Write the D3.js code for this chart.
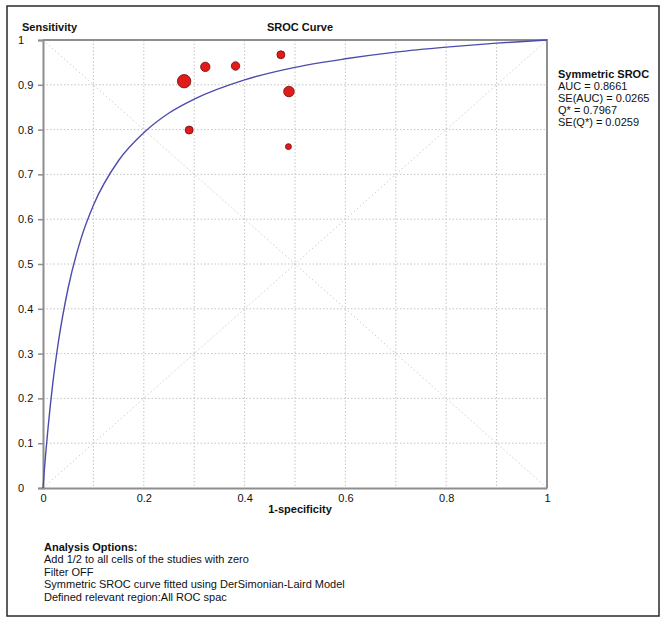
<!DOCTYPE html>
<html>
<head>
<meta charset="utf-8">
<script src="https://cdn.jsdelivr.net/npm/d3@7"></script>
<style>
    body { margin: 0; background: #fff; }
    svg text { font-family: "Liberation Sans", Arial, sans-serif; font-size: 11px; fill: #111; }
    .bold { font-weight: bold; }
</style>
</head>
<body>
<div id="chart"></div>
<script>
// study points (1-specificity, sensitivity) and relative study weight
let studyFpr  = [0.280, 0.322, 0.382, 0.472, 0.488, 0.290, 0.487];
let studySens = [0.908, 0.940, 0.942, 0.967, 0.885, 0.799, 0.762];
let studyWeight = [45, 22, 18, 16, 28, 16, 9];

// symmetric SROC curve
let curveFpr  = [0, 0.002, 0.005, 0.01, 0.02, 0.03, 0.05, 0.075, 0.1, 0.15, 0.2, 0.25, 0.3, 0.4, 0.5, 0.6, 0.7, 0.8, 0.9, 1];
let curveSens = [0, 0.030, 0.072, 0.134, 0.239, 0.322, 0.447, 0.555, 0.631, 0.731, 0.793, 0.837, 0.868, 0.911, 0.939, 0.958, 0.973, 0.984, 0.993, 1];

let xTicks = [0, 0.2, 0.4, 0.6, 0.8, 1];
let yTicks = [0, 0.1, 0.2, 0.3, 0.4, 0.5, 0.6, 0.7, 0.8, 0.9, 1];
let gridTicks = [0.1, 0.2, 0.3, 0.4, 0.5, 0.6, 0.7, 0.8, 0.9];

let legendTitle = "Symmetric SROC";
let legendLines = ["AUC = 0.8661", "SE(AUC) = 0.0265", "Q* = 0.7967", "SE(Q*) = 0.0259"];
let optionsTitle = "Analysis Options:";
let optionsLines = [
    "Add 1/2 to all cells of the studies with zero",
    "Filter OFF",
    "Symmetric SROC curve fitted using DerSimonian-Laird Model",
    "Defined relevant region:All ROC spac"
];

let svg = d3.select("#chart").append("svg")
    .attr("width", 667)
    .attr("height", 624);

// outer frame
svg.append("rect")
    .attr("x", 7).attr("y", 6)
    .attr("width", 652).attr("height", 610)
    .attr("fill", "none")
    .attr("stroke", "#2a2a2a")
    .attr("stroke-width", 1.5);

let margin = { left: 43, top: 40 };
let width = 504, height = 448;

let g = svg.append("g")
    .attr("transform", "translate(" + margin.left + "," + margin.top + ")");

let x = d3.scaleLinear().domain([0, 1]).range([0, width]);
let y = d3.scaleLinear().domain([0, 1]).range([height, 0]);
let r = d3.scaleSqrt().domain([0, 45]).range([0, 6.7]);

// grid
g.append("g").selectAll("line")
    .data(gridTicks)
    .enter().append("line")
    .attr("x1", d => x(d)).attr("x2", d => x(d))
    .attr("y1", 0).attr("y2", height)
    .attr("stroke", "#c4c4c4")
    .attr("stroke-dasharray", "1.5,2");

g.append("g").selectAll("line")
    .data(gridTicks)
    .enter().append("line")
    .attr("y1", d => y(d)).attr("y2", d => y(d))
    .attr("x1", 0).attr("x2", width)
    .attr("stroke", "#c4c4c4")
    .attr("stroke-dasharray", "1.5,2");

// diagonals
g.append("line")
    .attr("x1", x(0)).attr("y1", y(0)).attr("x2", x(1)).attr("y2", y(1))
    .attr("stroke", "#cfcfcf").attr("stroke-dasharray", "1.5,2.5");
g.append("line")
    .attr("x1", x(0)).attr("y1", y(1)).attr("x2", x(1)).attr("y2", y(0))
    .attr("stroke", "#cfcfcf").attr("stroke-dasharray", "1.5,2.5");

// frame top/right
g.append("path")
    .attr("d", "M0,0H" + width + "V" + height)
    .attr("fill", "none")
    .attr("stroke", "#8e8e8e")
    .attr("stroke-width", 2);

// axes
let yAxis = g.append("g")
    .call(d3.axisLeft(y).tickValues(yTicks).tickSize(5).tickFormat(d => String(d)));
yAxis.select(".domain").attr("stroke", "#8e8e8e").attr("stroke-width", 2);
yAxis.selectAll(".tick line").attr("stroke", "#8e8e8e").attr("stroke-width", 1.5);
yAxis.selectAll(".tick text")
    .attr("text-anchor", "start")
    .attr("x", -25)
    .attr("fill", "#111")
    .style("font-size", "11px")
    .style("font-family", "Liberation Sans, Arial, sans-serif");

let xAxis = g.append("g")
    .attr("transform", "translate(0," + height + ")")
    .call(d3.axisBottom(x).tickValues(xTicks).tickSize(0).tickPadding(6).tickFormat(d => String(d)));
xAxis.select(".domain").attr("stroke", "#8e8e8e").attr("stroke-width", 2);
xAxis.selectAll(".tick text")
    .attr("fill", "#111")
    .style("font-size", "11px")
    .style("font-family", "Liberation Sans, Arial, sans-serif");

// SROC curve
let curveData = curveFpr.map((f, i) => ({ f: f, s: curveSens[i] }));
g.append("path")
    .datum(curveData)
    .attr("fill", "none")
    .attr("stroke", "#4c4cae")
    .attr("stroke-width", 1.4)
    .attr("d", d3.line().x(d => x(d.f)).y(d => y(d.s)).curve(d3.curveMonotoneX));

// study points
let studies = studyFpr.map((f, i) => ({ f: f, s: studySens[i], w: studyWeight[i] }));
g.append("g").selectAll("circle")
    .data(studies)
    .enter().append("circle")
    .attr("cx", d => x(d.f))
    .attr("cy", d => y(d.s))
    .attr("r", d => r(d.w))
    .attr("fill", "#e11a1a")
    .attr("stroke", "#6e0c0c")
    .attr("stroke-width", 0.8);

// titles
svg.append("text").attr("class", "bold")
    .attr("x", 22).attr("y", 27).attr("dy", "0.35em")
    .text("Sensitivity");
svg.append("text").attr("class", "bold")
    .attr("x", 300).attr("y", 27).attr("dy", "0.35em")
    .attr("text-anchor", "middle")
    .text("SROC Curve");
svg.append("text").attr("class", "bold")
    .attr("x", 300).attr("y", 509).attr("dy", "0.35em")
    .attr("text-anchor", "middle")
    .text("1-specificity");

// legend
svg.append("text").attr("class", "bold")
    .attr("x", 558).attr("y", 74).attr("dy", "0.35em")
    .text(legendTitle);
svg.append("g").selectAll("text")
    .data(legendLines)
    .enter().append("text")
    .attr("x", 558)
    .attr("y", (d, i) => 86 + i * 12)
    .attr("dy", "0.35em")
    .text(d => d);

// analysis options
svg.append("text").attr("class", "bold")
    .attr("x", 44).attr("y", 547).attr("dy", "0.35em")
    .text(optionsTitle);
svg.append("g").selectAll("text")
    .data(optionsLines)
    .enter().append("text")
    .attr("x", 44)
    .attr("y", (d, i) => 559.5 + i * 12.5)
    .attr("dy", "0.35em")
    .text(d => d);
</script>
</body>
</html>
